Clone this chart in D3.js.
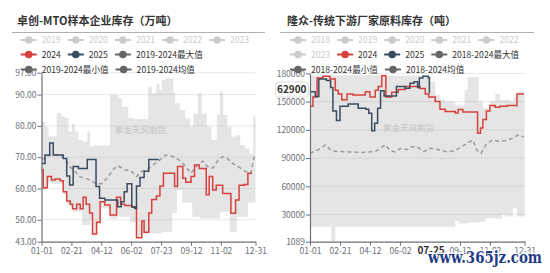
<!DOCTYPE html>
<html><head><meta charset="utf-8">
<script src="https://cdn.jsdelivr.net/npm/d3@7"></script>
<style>
body{margin:0;background:#fff}
svg{display:block}
text{font-family:"Noto Sans CJK SC","Noto Sans",sans-serif}
</style>
</head><body>
<svg id="c" width="550" height="273"></svg>
<script>
// ---------- shared axis categories ----------
const xTickDays = [0, 51, 102, 153, 204, 255, 306, 365];
const xTickLabels = ['01-01', '02-21', '04-12', '06-02', '07-23', '09-12', '11-02', '12-31'];

// ---------- chart 1: 卓创-MTO样本企业库存（万吨） ----------
const mtoTitle = '卓创-MTO样本企业库存（万吨）';
const mtoLegendRows = [['2019', '2020', '2021', '2022', '2023'], ['2024', '2025', '2019-2024最大值'], ['2019-2024最小值', '2019-2024均值']];
const mtoYTicks = [43, 50, 60, 70, 80, 90, 97];
const mto2024Days = [0,3,10,17,23,32,37,43,49,53,60,66,71,76,82,87,94,100,108,117,128,135,142,154,162,171,175,183,188,196,202,208,227,232,241,246,255,261,269,281,286,292,298,309,323,331,337,346,352,359];
const mto2024 = [66,60.2,63.8,62.7,63,62.5,59,56,55,53.5,55,53.5,57.2,55,52.2,45.5,49.2,55.8,54.7,51.5,57.2,55,54.6,54,44.3,49.6,46,52.2,56.5,57.6,60.8,64.9,60.6,67,63.3,62,63.8,67.5,66.4,58,63.8,59.5,61,58.4,52.1,56.3,61,61.3,64.9,64.9];
const mto2025Days = [0,6,14,20,37,43,48,54,63,78,93,99,108,130,136,141,146,154,159,162,168,175,183,200];
const mto2025 = [68,70.7,74.5,70.7,69.6,64,61.1,67,66.4,69.3,60.6,56.9,56.3,54.2,55.8,59,61.5,54.2,53.6,60.8,63.5,65.5,69.3,69.3];
const mtoMaxDays = [0,6,12,26,34,40,46,52,57,63,70,78,83,88,117,131,137,148,157,182,188,196,201,205,211,225,228,236,245,253,259,267,273,282,290,299,304,310,317,324,332,339,347,355,361,365];
const mtoMax = [81.3,79.7,76.6,84.2,83,82.5,78.2,80.6,78.2,75.5,75,78.2,73.4,73.7,89.9,88.9,86.1,82.5,82.2,92.5,90.4,93.4,91.5,94.7,95.2,90.9,87.2,85.1,82.4,79.7,84,90.4,84,79.7,75.5,83.5,90.9,83.5,79.7,76.6,77.1,73.9,72.8,71.2,83,83];
const mtoMinDays = [0,10,17,32,37,43,49,53,69,83,87,94,100,117,129,151,163,171,182,207,223,231,240,257,270,304,321,333,352,365];
const mtoMin = [59.5,62,61.5,61.5,58,55,54,52.6,48.3,50,45.5,48.5,53.7,50.4,51,49.2,44.3,45.5,45.7,46.2,52.2,59.5,55.5,51,50.4,52.6,46.2,51,55.5,55.5];
const mtoMeanDays = [0,11,23,34,42,48,57,65,74,85,93,102,113,122,130,142,153,162,170,182,190,201,212,224,235,246,255,264,275,283,292,301,309,318,326,337,349,357,363];
const mtoMean = [69.1,70.5,70.7,70.5,69,67,65.5,63.8,63.3,62.5,61.5,61.5,63.5,66,67.3,66,65.5,63.8,65.4,66.4,67.5,69,70.7,70.2,69.1,67,64.9,67,68.8,67,66.5,69,70.2,69.5,68,66.8,65.3,64.9,70.2];

// ---------- chart 2: 隆众-传统下游厂家原料库存（吨） ----------
const lzTitle = '隆众-传统下游厂家原料库存（吨）';
const lzLegendRows = [['2018', '2019', '2020', '2021', '2022'], ['2023', '2024', '2025', '2018-2024最大值'], ['2018-2024最小值', '2018-2024均值']];
const lzYTicks = [1089, 30000, 60000, 90000, 120000, 150000, 180000];
const lz2024Days = [0,5,12,22,34,43,48,54,63,73,94,102,111,116,122,129,139,150,162,175,187,196,202,213,221,230,247,252,260,269,285,290,294,300,306,315,323,335,352,364];
const lz2024 = [145000,155000,175000,177000,174000,162000,158000,152000,158000,157000,160500,155000,162000,166000,177500,155000,160000,163000,166000,166000,164000,158000,155000,150000,142000,139500,138000,141500,139000,139000,116300,122000,131000,140000,146000,144000,145000,146000,158000,158000];
const lz2025Days = [0,9,15,28,35,39,45,51,65,82,95,100,105,110,115,120,126,139,147,162,170,177,183,186,192,201,203];
const lz2025 = [160500,155500,174000,172500,165000,140000,130000,145000,147500,143000,141800,137600,119000,127000,143000,161500,156000,156000,166000,164100,169500,171000,165000,175000,177000,175500,159000];
const lzMaxDays = [0,122,129,201,206,213,221,230,247,260,263,268,287,294,306,315,323,340,347,352,365];
const lzMax = [178000,178500,177500,177500,171000,157000,152000,150000,146000,146000,162500,176000,150000,143000,150000,158000,152000,150000,155000,160000,160000];
const lzMinDays = [0,36,43,247,253,267,289,298,315,327,332,345,352,365];
const lzMin = [17000,1089,17000,23000,20500,21500,22500,26000,25500,29500,28000,36600,28000,28000];
const lzMeanDays = [0,14,26,36,46,68,88,111,119,128,136,145,153,165,173,182,194,204,213,223,233,245,257,267,277,284,291,299,310,321,332,344,354,364];
const lzMean = [95000,99000,104000,98000,97000,96500,96000,97000,100000,104000,98000,96500,100000,99000,102000,102000,96800,100400,99500,98500,96500,97500,101800,105700,109200,98300,95000,104000,109200,108000,108500,110900,114500,112500];
const lzPointerX = '07-25', lzPointerXDay = 206, lzPointerY = '62900', lzPointerYVal = 162900;

const RED = '#d8403c', NAVY = '#3a4c60', GRAY_ICON = '#666', OFF = '#ccc', AXIS = '#6e7079';
const svg = d3.select('#c');
const zip = (a, b) => a.map((d, i) => [d, b[i]]);

function drawChart(c) {
  const g = svg.append('g');
  const x = d3.scaleLinear().domain([0, 365]).range(c.xr);
  const y = d3.scaleLinear().domain([c.yTicks[0], c.yTicks[c.yTicks.length - 1]]).range(c.yr);

  // title + separator
  g.append('text').attr('x', c.titleX).attr('y', 25).attr('font-size', 11).attr('font-weight', 700)
    .attr('fill', '#333').text(c.title);
  g.append('line').attr('x1', c.sep[0]).attr('x2', c.sep[1]).attr('y1', 32.5).attr('y2', 32.5)
    .attr('stroke', '#b0b0b0').attr('stroke-width', 1);

  // grid
  g.selectAll('.grid').data(c.yTicks.slice(1)).enter().append('line')
    .attr('x1', c.xr[0]).attr('x2', c.xr[1]).attr('y1', d => y(d)).attr('y2', d => y(d))
    .attr('stroke', '#e8e8e8').attr('stroke-width', 1);

  // band between max and min
  const top = d3.line().x(d => x(d[0])).y(d => y(d[1])).curve(d3.curveStepAfter)(zip(c.maxDays, c.max));
  const bot = d3.line().x(d => x(d[0])).y(d => y(d[1])).curve(d3.curveStepBefore)(zip(c.minDays, c.min).reverse());
  g.append('path').attr('d', top + bot.replace(/^M/, 'L') + 'Z').attr('fill', 'rgba(170,170,170,0.3)');

  // watermark text
  g.append('text').attr('x', c.wm[0]).attr('y', c.wm[1]).attr('font-size', 8.5).attr('fill', '#c4c4c4')
    .text('紫金天风期货');

  // mean dashed
  g.append('path').attr('d', d3.line().x(d => x(d[0])).y(d => y(d[1]))(zip(c.meanDays, c.mean)))
    .attr('fill', 'none').attr('stroke', '#9b9b9b').attr('stroke-width', 1.5).attr('stroke-dasharray', '4,3');

  const step = d3.line().x(d => x(d[0])).y(d => y(d[1])).curve(d3.curveStepAfter);
  g.append('path').attr('d', step(zip(c.d24, c.v24))).attr('fill', 'none').attr('stroke', RED).attr('stroke-width', 1.5);
  g.append('path').attr('d', step(zip(c.d25, c.v25))).attr('fill', 'none').attr('stroke', NAVY).attr('stroke-width', 1.5);

  // axes
  const ya = g.append('g').attr('transform', `translate(${c.xr[0]},0)`)
    .call(d3.axisLeft(y).tickValues(c.yTicks).tickFormat(c.fmt).tickSize(4).tickSizeOuter(0).tickPadding(1));
  const xa = g.append('g').attr('transform', `translate(0,${c.yr[0]})`)
    .call(d3.axisBottom(x).tickValues(c.xTicks).tickFormat(d => xTickLabels[xTickDays.indexOf(d)]).tickSize(4).tickSizeOuter(0).tickPadding(2));
  [ya, xa].forEach(a => {
    a.select('.domain').attr('stroke', AXIS).attr('stroke-width', 1.2);
    a.selectAll('.tick line').attr('stroke', AXIS);
    a.selectAll('.tick text').attr('fill', AXIS).attr('font-size', 8.5)
      .style('font-family', '"Noto Sans CJK SC","Noto Sans",sans-serif');
  });

  // legend
  const rowY = [40, 54.5, 69.5];
  c.legend.forEach((row, ri) => {
    let lx = c.legX;
    row.forEach(name => {
      let col = OFF, tcol = OFF;
      if (name === '2024') { col = RED; tcol = '#333'; }
      else if (name === '2025') { col = NAVY; tcol = '#333'; }
      else if (name.indexOf('-') > 0) { col = GRAY_ICON; tcol = '#333'; }
      const it = g.append('g');
      it.append('line').attr('x1', lx).attr('x2', lx + 16).attr('y1', rowY[ri]).attr('y2', rowY[ri])
        .attr('stroke', col).attr('stroke-width', 2);
      it.append('circle').attr('cx', lx + 8).attr('cy', rowY[ri]).attr('r', 3.8).attr('fill', col);
      const t = it.append('text').attr('x', lx + 21).attr('y', rowY[ri] + 3.2).attr('font-size', 8.6)
        .attr('fill', tcol).text(name);
      lx += 21 + t.node().getComputedTextLength() + 7;
    });
  });
  return {g, x, y};
}

drawChart({
  title: mtoTitle, titleX: 17, sep: [12, 265], xr: [41.5, 255.5], yr: [241.7, 72.7],
  yTicks: mtoYTicks, fmt: d3.format('.2f'), xTicks: xTickDays,
  maxDays: mtoMaxDays, max: mtoMax, minDays: mtoMinDays, min: mtoMin,
  meanDays: mtoMeanDays, mean: mtoMean, d24: mto2024Days, v24: mto2024, d25: mto2025Days, v25: mto2025,
  legend: mtoLegendRows, legX: 20.7, wm: [115, 133]
});

const r = drawChart({
  title: lzTitle, titleX: 287, sep: [280, 534], xr: [310, 524.6], yr: [241.7, 73.4],
  yTicks: lzYTicks, fmt: d3.format('d'), xTicks: xTickDays.filter(d => d !== 204),
  maxDays: lzMaxDays, max: lzMax, minDays: lzMinDays, min: lzMin,
  meanDays: lzMeanDays, mean: lzMean, d24: lz2024Days, v24: lz2024, d25: lz2025Days, v25: lz2025,
  legend: lzLegendRows, legX: 290, wm: [383, 131]
});

// axis pointer labels on chart 2
const px = r.x(lzPointerXDay), py = r.y(lzPointerYVal);
r.g.append('rect').attr('x', px - 18).attr('y', 244.5).attr('width', 36).attr('height', 13).attr('rx', 2)
  .attr('fill', '#fff');
r.g.append('text').attr('x', px).attr('y', 254).attr('text-anchor', 'middle').attr('font-size', 10)
  .attr('font-weight', 700).attr('fill', '#333').text(lzPointerX);
r.g.append('rect').attr('x', 275.5).attr('y', py - 7.5).attr('width', 33).attr('height', 15).attr('rx', 3)
  .attr('fill', '#fff').attr('stroke', '#ddd');
r.g.append('text').attr('x', 306.5).attr('y', py + 3.6).attr('text-anchor', 'end').attr('font-size', 10)
  .attr('font-weight', 700).attr('fill', '#333').text(lzPointerY);

// site watermark
svg.append('text').attr('x', 428).attr('y', 263).attr('font-size', 16).attr('font-weight', 700)
  .attr('textLength', 114).attr('lengthAdjust', 'spacingAndGlyphs')
  .style('font-family', '"DejaVu Serif",serif').attr('fill', '#1f3b86')
  .attr('stroke', '#fff').attr('stroke-width', 2.5).attr('paint-order', 'stroke').text('www.365jz.com');
</script>
</body></html>
